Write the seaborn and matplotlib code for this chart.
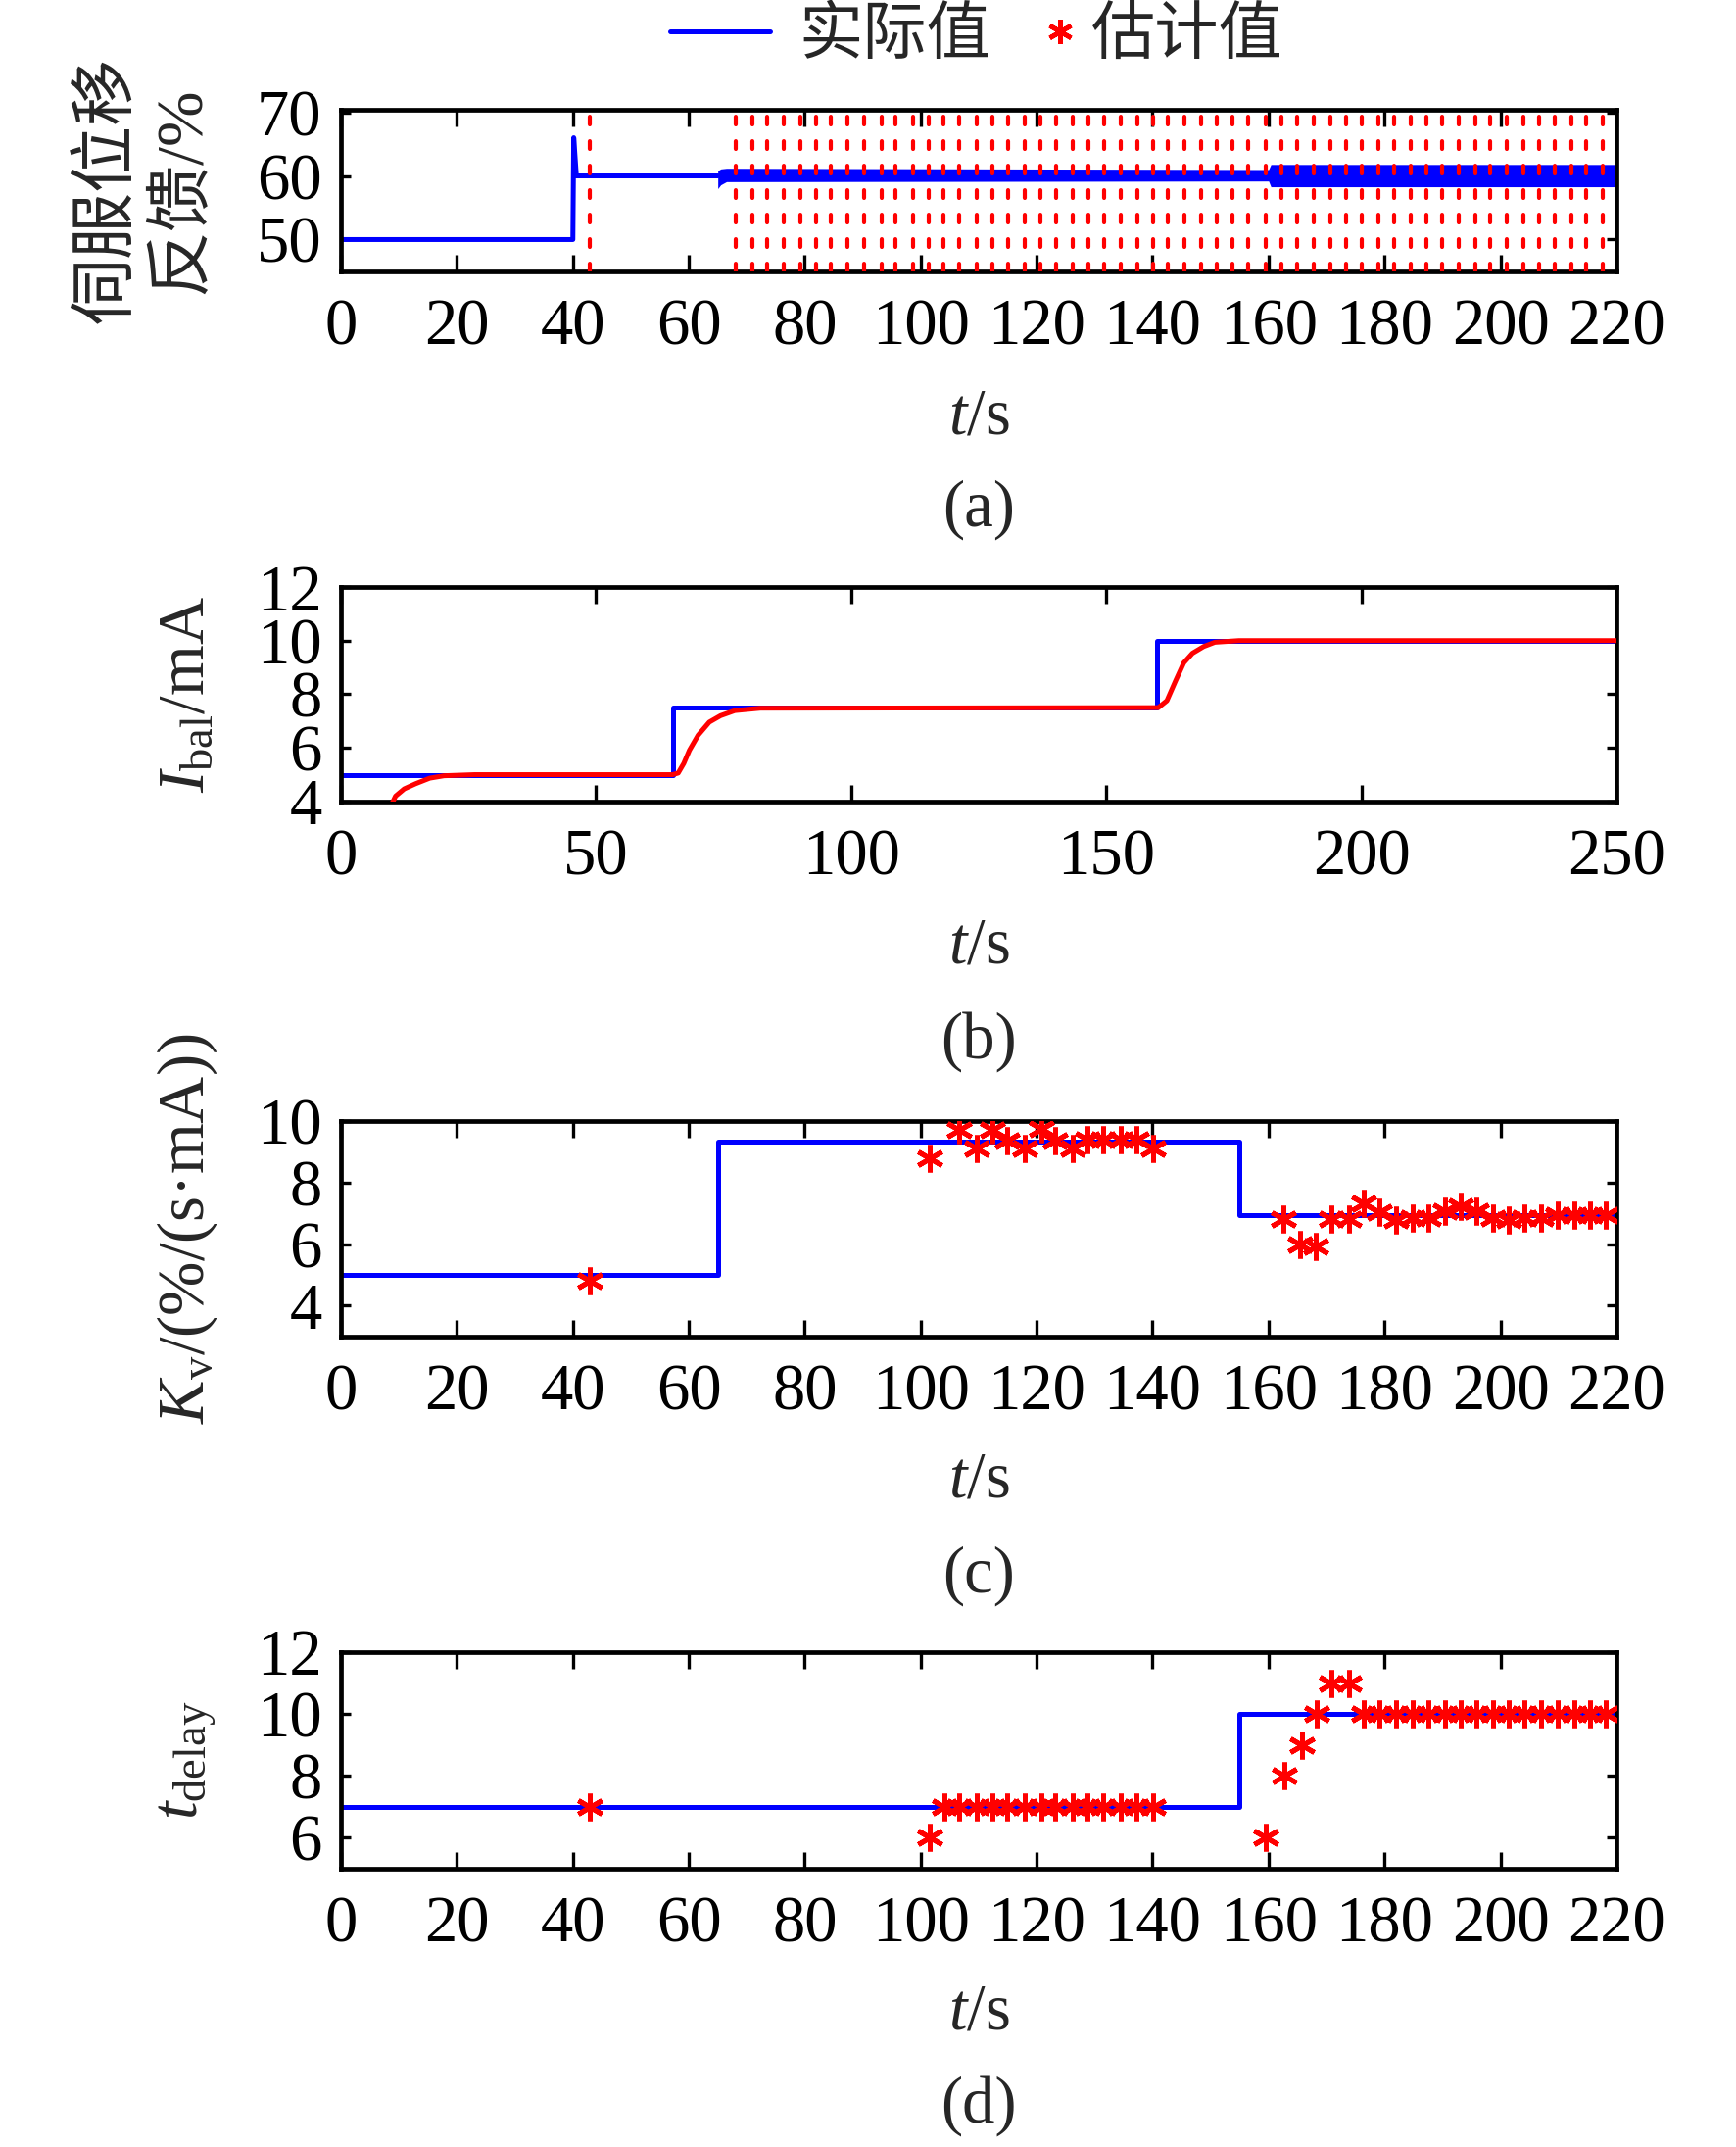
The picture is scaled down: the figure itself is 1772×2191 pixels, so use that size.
import numpy as np
import pandas as pd
import seaborn as sns
import matplotlib.pyplot as plt
from matplotlib.lines import Line2D

# Step 1: data
# (a) servo position feedback, %
pos_t = [0, 40, 40.15, 40.6, 65]
pos_v = [50, 50, 66, 60, 60]
# fast oscillation after 65 s, kept as its envelope
band_t = [65, 65.5, 66.5, 160, 160.4, 220]
band_lo = [58.0, 58.6, 59.1, 59.2, 58.3, 58.3]
band_hi = [60.8, 61.1, 61.2, 61.0, 61.8, 61.8]
# estimation instants (red dashed lines)
est_times = [43.0, 68.1, 70.9, 73.5, 76.3, 79.2, 82.0, 84.5, 87.4, 90.3, 93.3,
             95.7, 98.6, 101.4, 103.9, 106.7, 109.6, 112.3, 115.1, 117.9, 120.6,
             123.4, 126.2, 129.0, 131.7, 134.5, 137.3, 140.1, 142.7, 145.5, 148.3,
             151.0, 153.7, 156.5, 159.6, 162.3, 165.0, 167.8, 170.6, 173.4, 176.1,
             178.9, 181.7, 184.5, 187.2, 190.0, 192.8, 195.6, 198.3, 201.1, 203.9,
             206.7, 209.4, 212.2, 214.8, 217.7]

# (b) I_bal, mA
ibal_t = [0, 65, 160, 250]
ibal_v = [5, 7.5, 10, 10]
ibal_est_t = [10, 10.7, 12.4, 14.6, 17.4, 20.2, 26.2, 65, 66.1, 67.2, 68.3, 70,
              72.2, 74.4, 77.2, 82.2, 160.2, 161.9, 163.6, 165.2, 166.9, 169.1,
              171.3, 176, 250]
ibal_est_v = [3.92, 4.2, 4.47, 4.66, 4.87, 4.96, 5.0, 5.0, 5.06, 5.42, 5.91, 6.47,
              6.96, 7.2, 7.39, 7.48, 7.5, 7.76, 8.5, 9.17, 9.53, 9.78,
              9.94, 10.0, 10.0]

# (c) K_v
kv_t = [0, 65, 155, 220]
kv_v = [5, 9.33, 6.95, 6.95]
kv_est_t = [43, 101.5, 106.7, 109.6, 112.3, 114.9, 118.0, 120.8, 123.2, 126.2,
            128.8, 131.5, 134.5, 137.2, 140.1,
            162.6, 165.5, 168.2, 170.8, 173.8, 176.5, 179.2, 182.0, 184.8, 187.6,
            190.4, 193.1, 195.9, 198.7, 201.5, 204.2, 207.0, 209.8, 212.7, 215.4, 218.1]
kv_est_v = [4.8, 8.8, 9.72, 9.12, 9.72, 9.35, 9.12, 9.74, 9.35, 9.12,
            9.4, 9.4, 9.4, 9.4, 9.12,
            6.82, 5.98, 5.93, 6.8, 6.8, 7.33, 7.03, 6.77, 6.86, 6.86,
            7.08, 7.22, 7.08, 6.86, 6.79, 6.86, 6.86, 6.93, 6.93, 6.93, 6.93]

# (d) t_delay
td_t = [0, 155, 220]
td_v = [7, 10, 10]
td_est_t = [43, 101.6, 104.1, 106.7, 109.6, 112.3, 114.9, 118.0, 120.8, 123.2,
            126.2, 128.8, 131.5, 134.5, 137.2, 140.1,
            159.6, 162.7, 165.7, 168.3, 170.8, 173.9, 176.5, 179.2, 182.0, 184.8,
            187.6, 190.4, 193.1, 195.9, 198.7, 201.5, 204.2, 207.0, 209.8, 212.7,
            215.4, 218.1]
td_est_v = [7, 6, 7, 7, 7, 7, 7, 7, 7, 7,
            7, 7, 7, 7, 7, 7,
            6, 8, 9, 10, 11, 11, 10, 10, 10, 10,
            10, 10, 10, 10, 10, 10, 10, 10, 10, 10,
            10, 10]

# Step 2: style
sns.set_theme(style='ticks')
fam = ['Liberation Serif', 'Noto Sans CJK SC']
plt.rcParams['font.family'] = fam
plt.rcParams['mathtext.fontset'] = 'custom'
plt.rcParams['mathtext.rm'] = 'Liberation Serif'
plt.rcParams['mathtext.it'] = 'Liberation Serif:italic'
plt.rcParams['mathtext.bf'] = 'Liberation Serif:bold'

FS = 48
STAR = (6, 2, 0)
LW = 3.6

fig = plt.figure(figsize=(17.72, 21.91), dpi=100)
left, width = 0.1964, 0.7347
rects = [[left, 0.8736, width, 0.0753],
         [left, 0.6267, width, 0.0999],
         [left, 0.3775, width, 0.1004],
         [left, 0.1296, width, 0.1009]]
axes = [fig.add_axes(r) for r in rects]


def style_axes(ax, xlim, xticks, ylim, yticks):
    ax.set_xlim(*xlim)
    ax.set_ylim(*ylim)
    ax.set_xticks(xticks)
    ax.set_yticks(yticks)
    ax.tick_params(axis='x', direction='in', length=12, width=2.4, top=True,
                   bottom=True, labelsize=FS, pad=20, colors='black')
    ax.tick_params(axis='y', direction='in', length=7, width=2.4, left=True,
                   right=True, labelsize=FS, pad=14, colors='black')
    for s in ax.spines.values():
        s.set_linewidth(3.4)
        s.set_color('black')
    ax.set_xlabel('')
    ax.set_ylabel('')


def draw_steps(ax, t, v):
    sns.lineplot(x=t, y=v, ax=ax, color='blue', lw=LW, drawstyle='steps-post',
                 estimator=None, sort=False, legend=False, zorder=2)


def draw_est(ax, t, v):
    sns.lineplot(x=t, y=v, ax=ax, linestyle='none', marker=STAR, markersize=20,
                 mec='red', mew=3.6, color='red', estimator=None, sort=False,
                 legend=False, zorder=4)


# Step 3: (a) servo feedback
ax = axes[0]
sns.lineplot(x=pos_t, y=pos_v, ax=ax, color='blue', lw=LW, estimator=None,
             sort=False, legend=False)
ax.fill_between(band_t, band_lo, band_hi, color='blue', lw=0)
for t in est_times:
    ax.axvline(t, color='red', lw=3, dashes=(1.9, 4.1), dash_capstyle='round', zorder=3)
style_axes(ax, (0, 220), range(0, 221, 20), (45, 70.4), [50, 60, 70])

# Step 4: (b) I_bal
ax = axes[1]
draw_steps(ax, ibal_t, ibal_v)
sns.lineplot(x=ibal_est_t, y=ibal_est_v, ax=ax, color='red', lw=LW,
             estimator=None, sort=False, legend=False, zorder=3)
style_axes(ax, (0, 250), range(0, 251, 50), (4, 12), [4, 6, 8, 10, 12])

# Step 5: (c) K_v
ax = axes[2]
draw_steps(ax, kv_t, kv_v)
draw_est(ax, kv_est_t, kv_est_v)
style_axes(ax, (0, 220), range(0, 221, 20), (3, 10), [4, 6, 8, 10])

# Step 6: (d) t_delay
ax = axes[3]
draw_steps(ax, td_t, td_v)
draw_est(ax, td_est_t, td_est_v)
style_axes(ax, (0, 220), range(0, 221, 20), (5, 12), [6, 8, 10, 12])

# Step 7: labels
xc = left + width / 2
xlab_y = [0.8056, 0.5591, 0.3104, 0.0625]
tag_y = [0.7627, 0.5148, 0.2661, 0.0192]
tags = ['(a)', '(b)', '(c)', '(d)']
for i in range(4):
    fig.text(xc, xlab_y[i], '$t$/s', ha='center', va='center', fontsize=FS)
    fig.text(xc, tag_y[i], tags[i], ha='center', va='center', fontsize=FS)

ylabels = ['$I_{\\mathrm{bal}}$/mA', '$K_{\\mathrm{v}}$/(%/(s·mA))', '$t_{\\mathrm{delay}}$']
for i, lab in enumerate(ylabels):
    r = rects[i + 1]
    fig.text(0.108, r[1] + r[3] / 2, lab, rotation=90, ha='center', va='center',
             fontsize=FS)
r = rects[0]
fig.text(0.084, r[1] + r[3] / 2, '伺服位移\n反馈/%', rotation=90, ha='center',
         va='center', fontsize=49, linespacing=1.22, multialignment='center',
         family=fam)

# Step 8: legend
h1 = Line2D([], [], color='blue', lw=LW)
h2 = Line2D([], [], ls='none', marker=STAR, ms=18, mec='red', mew=3.4)
lp = {'family': fam, 'size': 47}
fig.legend([h1], ['实际值'], loc='center left', bbox_to_anchor=(0.386, 0.9825),
           frameon=False, handlelength=1.57, handletextpad=0.45, borderpad=0,
           borderaxespad=0, prop=lp)
fig.legend([h2], ['估计值'], loc='center left', bbox_to_anchor=(0.603, 0.9825),
           frameon=False, handlelength=0.4, handletextpad=0.3, borderpad=0,
           borderaxespad=0, prop=lp)

fig.savefig('out.png', dpi=100)
